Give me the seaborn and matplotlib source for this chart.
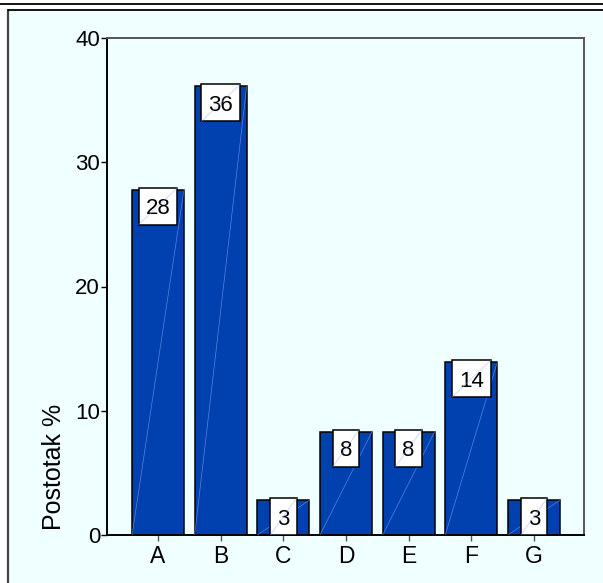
import numpy as np
import pandas as pd
import seaborn as sns
import matplotlib.pyplot as plt
from matplotlib.patches import Rectangle
from matplotlib.lines import Line2D

categories = ["A", "B", "C", "D", "E", "F", "G"]
percent = [27.8, 36.1, 2.8, 8.3, 8.3, 13.9, 2.8]
labels = ["28", "36", "3", "8", "8", "14", "3"]

W, H = 603, 583
bar_color = "#0041AF"
panel_color = "#F0FFFF"

sns.set_style("ticks")
plt.rcParams['font.family'] = ['Liberation Sans', 'DejaVu Sans']
plt.rcParams['text.color'] = 'black'

fig = plt.figure(figsize=(W / 100, H / 100), dpi=100)
fig.patch.set_facecolor("white")

# panel background and frame lines
fig.add_artist(Rectangle((8 / W, 0), 1 - 8 / W, 1 - 9.5 / H, transform=fig.transFigure,
                         facecolor=panel_color, edgecolor="none", zorder=-10))
fig.add_artist(Line2D([8 / W, 8 / W], [0, 1 - 9.5 / H], transform=fig.transFigure,
                      color="#444444", lw=1.6))
fig.add_artist(Line2D([8 / W, 1], [1 - 9.5 / H, 1 - 9.5 / H], transform=fig.transFigure,
                      color="black", lw=1.3))
fig.add_artist(Line2D([0, 1], [1 - 3.5 / H, 1 - 3.5 / H], transform=fig.transFigure,
                      color="black", lw=1.3))

ax = fig.add_axes([107 / W, 48 / H, 477 / W, 497 / H])
ax.set_facecolor(panel_color)

df = pd.DataFrame({"cat": categories, "pct": percent})
sns.barplot(data=df, x="cat", y="pct", color=bar_color, saturation=1, width=0.83,
            edgecolor="black", linewidth=1.1, ax=ax)

# faint diagonal line through each bar
for p in ax.patches:
    x0, w, h = p.get_x(), p.get_width(), p.get_height()
    ax.plot([x0, x0 + w], [0, h], color="#8fb0ff", lw=0.5, alpha=0.6, zorder=3)

ax.set_xlim(-0.815, 6.8)
ax.set_ylim(0, 40)
ax.set_yticks([0, 10, 20, 30, 40])
ax.set_xlabel("")
ax.set_ylabel("Postotak %", fontsize=18, color="black")
ax.yaxis.set_label_coords(-0.085, 0.137)
ax.tick_params(axis="both", length=4, width=1, color="black", labelcolor="black")
ax.tick_params(axis="y", pad=1, labelsize=16)
ax.tick_params(axis="x", pad=3, labelsize=16.5, color="#555555")

for s in ["left", "bottom"]:
    ax.spines[s].set_color("black")
    ax.spines[s].set_linewidth(1.4)
for s in ["top", "right"]:
    ax.spines[s].set_visible(True)
    ax.spines[s].set_color("#555555")
    ax.spines[s].set_linewidth(1.4)

anns = []
for i, (v, lab) in enumerate(zip(percent, labels)):
    a = ax.annotate(lab, xy=(i, v), xytext=(0, -17.5), textcoords="offset points",
                    ha="center", va="baseline", fontsize=16, color="black", zorder=5)
    anns.append(a)

# white label boxes (with the faint diagonal) sized from the rendered text
fig.canvas.draw()
r = fig.canvas.get_renderer()
to_axes = ax.transAxes.inverted()
for i, (v, a) in enumerate(zip(percent, anns)):
    te = a.get_window_extent(r)
    top = ax.transData.transform((i, v))[1]
    cx = (te.x0 + te.x1) / 2
    bw, bh = te.width + 14, 37
    cy = top - 16.5
    (x0, y0), (x1, y1) = to_axes.transform([(cx - bw / 2, cy - bh / 2),
                                            (cx + bw / 2, cy + bh / 2)])
    ax.add_patch(Rectangle((x0, y0), x1 - x0, y1 - y0, transform=ax.transAxes,
                           facecolor="white", edgecolor="black", lw=1.1, zorder=4))
    ax.plot([x0, x1], [y0, y1], transform=ax.transAxes, color="#8fb0ff",
            lw=0.5, alpha=0.6, zorder=6)

fig.savefig("out.png", dpi=100)
